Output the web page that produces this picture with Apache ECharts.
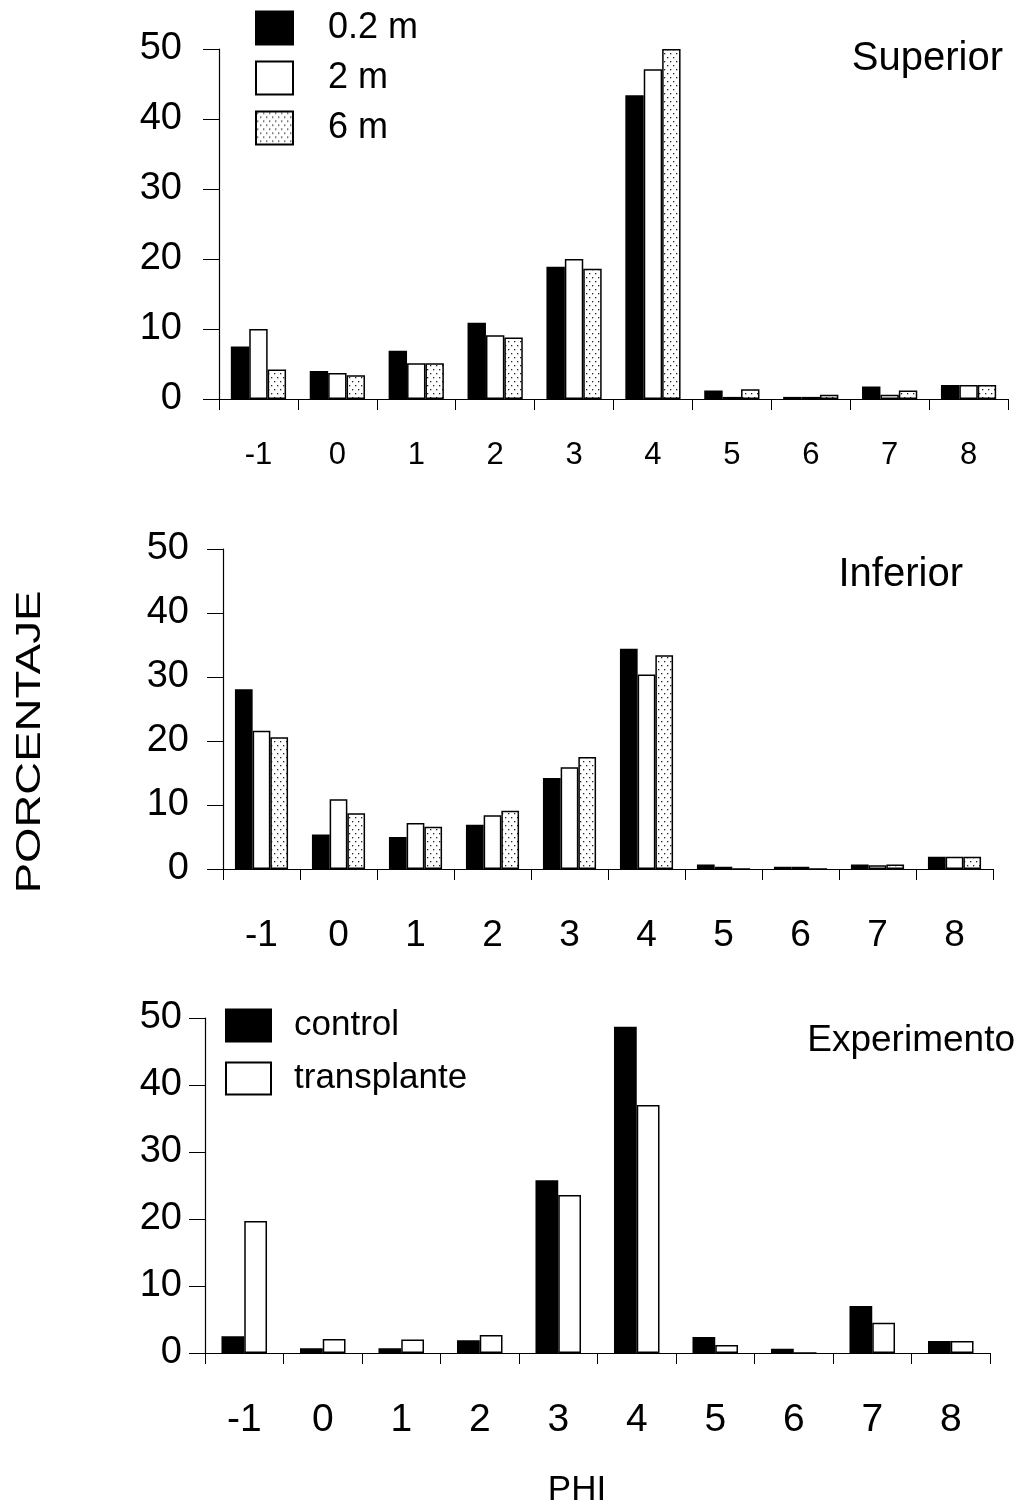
<!DOCTYPE html>
<html>
<head>
<meta charset="utf-8">
<script src="https://cdn.jsdelivr.net/npm/echarts@6/dist/echarts.min.js"></script>
<style>
  html, body { margin: 0; padding: 0; background: #fff; }
  #main { width: 1024px; height: 1509px; }
</style>
</head>
<body>
<div id="main"></div>
<script>
// PHI classes
var phi = ['-1', '0', '1', '2', '3', '4', '5', '6', '7', '8'];

// Superior
var sup02 = [7.5, 4.0, 6.9, 10.9, 18.9, 43.4, 1.2, 0.3, 1.8, 2.0];
var sup2  = [10.0, 3.7, 5.1, 9.1, 20.0, 47.1, 0.3, 0.3, 0.6, 2.0];
var sup6  = [4.2, 3.4, 5.1, 8.8, 18.6, 50.0, 1.4, 0.6, 1.2, 2.0];

// Inferior
var inf02 = [28.1, 5.4, 5.0, 6.9, 14.2, 34.4, 0.7, 0.35, 0.7, 1.9];
var inf2  = [21.6, 10.9, 7.2, 8.4, 15.9, 30.4, 0.35, 0.35, 0.6, 1.9];
var inf6  = [20.6, 8.7, 6.6, 9.1, 17.5, 33.4, 0, 0, 0.7, 1.9];

// Experimento
var control     = [2.5, 0.7, 0.7, 1.9, 25.8, 48.7, 2.4, 0.65, 7.0, 1.8];
var transplante = [19.7, 2.1, 2.0, 2.7, 23.6, 37.0, 1.2, 0, 4.5, 1.8];

var yTicks = [0, 10, 20, 30, 40, 50];

var FONT = "'Liberation Sans', Arial, sans-serif";

// dotted fill like the excel pattern
var pat = document.createElement('canvas');
pat.width = 6; pat.height = 8;
var pctx = pat.getContext('2d');
pctx.fillStyle = '#fff';
pctx.fillRect(0, 0, 6, 8);
pctx.fillStyle = '#222';
pctx.fillRect(1, 1, 1.3, 1.3);
pctx.fillRect(4, 5, 1.3, 1.3);
var dotted = { image: pat, repeat: 'repeat' };

var chart = echarts.init(document.getElementById('main'));

var grids = [
    { left: 219, right: 16, top: 49, height: 350 },
    { left: 223, right: 31, top: 549, height: 320 },
    { left: 205, right: 34, top: 1018, height: 335 }
];

function xAx(i, size, margin) {
    return {
        type: 'category', gridIndex: i, data: phi,
        axisLine: { lineStyle: { color: '#000', width: 1.2 } },
        axisTick: { show: true, length: 11, lineStyle: { color: '#000' } },
        axisLabel: { color: '#000', fontSize: size, fontFamily: FONT, margin: margin, interval: 0 }
    };
}

function yAx(i, margin) {
    return {
        type: 'value', gridIndex: i, min: yTicks[0], max: yTicks[yTicks.length - 1], interval: 10,
        splitLine: { show: false },
        axisLine: { show: true, lineStyle: { color: '#000', width: 1.2 } },
        axisTick: { show: true, length: 16, lineStyle: { color: '#000' } },
        axisLabel: { color: '#000', fontSize: 38, fontFamily: FONT, margin: margin }
    };
}

function bar(name, data, i, style, gap) {
    return {
        name: name, type: 'bar', data: data, xAxisIndex: i, yAxisIndex: i,
        barGap: '0%', barCategoryGap: gap,
        itemStyle: style,
        emphasis: { disabled: true },
        animation: false
    };
}

var blackStyle = { color: '#000', borderColor: '#000', borderWidth: 1.5 };
var whiteStyle = { color: '#fff', borderColor: '#000', borderWidth: 1.5 };
var dotStyle = { color: dotted, borderColor: '#000', borderWidth: 1.5 };

var option = {
    backgroundColor: '#fff',
    animation: false,
    grid: grids,
    xAxis: [xAx(0, 31, 41), xAx(1, 37, 48), xAx(2, 39, 48)],
    yAxis: [yAx(0, 37), yAx(1, 34), yAx(2, 23)],
    title: [
        { text: 'Superior', right: 16, top: 34, textStyle: { fontSize: 40, fontWeight: 'normal', color: '#000', fontFamily: FONT } },
        { text: 'Inferior', right: 56, top: 550, textStyle: { fontSize: 40, fontWeight: 'normal', color: '#000', fontFamily: FONT } },
        { text: 'Experimento', right: 4, top: 1017, textStyle: { fontSize: 37, fontWeight: 'normal', color: '#000', fontFamily: FONT } }
    ],
    legend: [
        {
            data: ['0.2 m', '2 m', '6 m'], left: 250, top: 5, orient: 'vertical',
            itemWidth: 37, itemHeight: 33, itemGap: 14, selectedMode: false, icon: 'rect',
            textStyle: { fontSize: 36, color: '#000', fontFamily: FONT, padding: [0, 0, 0, 30] }
        },
        {
            data: ['control', 'transplante'], left: 220, top: 1003, orient: 'vertical',
            itemWidth: 45, itemHeight: 32, itemGap: 18, selectedMode: false, icon: 'rect',
            textStyle: { fontSize: 35, color: '#000', fontFamily: FONT, padding: [0, 0, 0, 18] }
        }
    ],
    graphic: [
        {
            type: 'text', x: 30, y: 742, rotation: Math.PI / 2, scaleX: 1.3,
            style: { text: 'PORCENTAJE', fontSize: 35, fontFamily: FONT, fill: '#000', textAlign: 'center', textVerticalAlign: 'middle' }
        },
        {
            type: 'text', x: 577, y: 1490,
            style: { text: 'PHI', fontSize: 35, fontFamily: FONT, fill: '#000', textAlign: 'center', textVerticalAlign: 'middle' }
        }
    ],
    series: [
        bar('0.2 m', sup02, 0, blackStyle, '30%'),
        bar('2 m', sup2, 0, whiteStyle, '30%'),
        bar('6 m', sup6, 0, dotStyle, '30%'),
        bar('0.2 m', inf02, 1, blackStyle, '31%'),
        bar('2 m', inf2, 1, whiteStyle, '31%'),
        bar('6 m', inf6, 1, dotStyle, '31%'),
        bar('control', control, 2, blackStyle, '42%'),
        bar('transplante', transplante, 2, whiteStyle, '42%')
    ]
};

chart.setOption(option);
</script>
</body>
</html>
